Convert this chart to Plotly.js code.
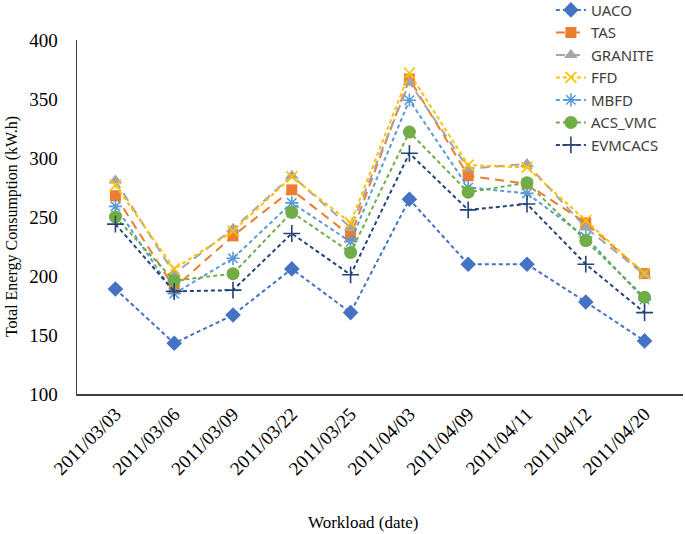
<!DOCTYPE html>
<html>
<head>
<meta charset="utf-8">
<script src="https://cdn.plot.ly/plotly-3.0.1.min.js"></script>
<style>
html,body{margin:0;padding:0;background:#fff;}
#chart{width:685px;height:534px;}
</style>
</head>
<body>
<div id="chart"></div>
<script>
var dates = ["2011/03/03","2011/03/06","2011/03/09","2011/03/22","2011/03/25","2011/04/03","2011/04/09","2011/04/11","2011/04/12","2011/04/20"];
var UACO    = [189, 143, 167, 206, 169, 265, 210, 210, 178, 145];
var TAS     = [268, 190, 234, 273, 234, 367, 285, 278, 245, 202];
var GRANITE = [281, 202, 240, 285, 241, 364, 291, 295, 241, 201];
var FFD     = [277, 206, 238, 284, 245, 372, 294, 292, 247, 202];
var MBFD    = [259, 185, 215, 262, 229, 349, 275, 270, 233, 180];
var ACS_VMC = [250, 196, 202, 254, 220, 322, 271, 279, 230, 182];
var EVMCACS = [244, 187, 188, 236, 201, 304, 256, 261, 210, 169];

function tr(name, y, color, dash, symbol, size, open) {
  var m = {symbol: symbol, size: size, color: color};
  if (open) { m.line = {color: color, width: 1.6}; }
  return {
    type: 'scatter', mode: 'lines+markers', name: name,
    x: dates, y: y,
    line: {color: color, width: 2, dash: dash},
    marker: m, hoverinfo: 'skip'
  };
}

var data = [
  tr('UACO', UACO, '#4472C4', '4px,3px', 'diamond', 12, false),
  tr('TAS', TAS, '#ED7D31', '9px,6px', 'square', 11, false),
  tr('GRANITE', GRANITE, '#A5A5A5', '9px,6px', 'triangle-up', 12, false),
  tr('FFD', FFD, '#FFC000', '4px,3px', 'x-thin-open', 11, true),
  tr('MBFD', MBFD, '#5B9BD5', '4px,3px', 'asterisk-open', 11, true),
  tr('ACS_VMC', ACS_VMC, '#70AD47', '4px,3px', 'circle', 13, false),
  tr('EVMCACS', EVMCACS, '#264478', '4px,3px', 'cross-thin-open', 12, true)
];

var serif = '"Liberation Serif", "Times New Roman", serif';

var layout = {
  width: 685, height: 534,
  margin: {l: 77, r: 2, t: 40, b: 140, autoexpand: false},
  paper_bgcolor: '#ffffff', plot_bgcolor: '#ffffff',
  showlegend: true,
  legend: {
    x: 0.782, y: 1.131, xanchor: 'left', yanchor: 'top',
    bgcolor: 'rgba(255,255,255,0)',
    font: {family: '"Noto Sans", "Liberation Sans", sans-serif', size: 15, color: '#404040'},
    traceorder: 'normal', tracegroupgap: 0
  },
  xaxis: {
    type: 'category',
    showgrid: false, zeroline: false,
    showline: true, linecolor: '#404040', linewidth: 1.5,
    ticks: '', tickangle: -45,
    tickfont: {family: serif, size: 19, color: '#000'},
    automargin: false,
    fixedrange: true
  },
  yaxis: {
    range: [100, 400], dtick: 50,
    showgrid: false, zeroline: false,
    showline: true, linecolor: '#404040', linewidth: 1.5,
    ticks: '', ticklabelstandoff: 14,
    tickfont: {family: serif, size: 19, color: '#000'},
    automargin: false,
    fixedrange: true
  },
  annotations: [{
    text: 'Workload (date)', showarrow: false,
    xref: 'paper', yref: 'paper', x: 0.472, y: -0.364,
    xanchor: 'center', yanchor: 'middle',
    font: {family: serif, size: 17, color: '#000'}
  }, {
    text: 'Total Energy Consumption (kW.h)', showarrow: false, textangle: -90,
    xref: 'paper', yref: 'paper', x: -0.107, y: 0.472,
    xanchor: 'center', yanchor: 'middle',
    font: {family: serif, size: 16, color: '#000'}
  }]
};

Plotly.newPlot('chart', data, layout, {displayModeBar: false, staticPlot: true});
</script>
</body>
</html>
